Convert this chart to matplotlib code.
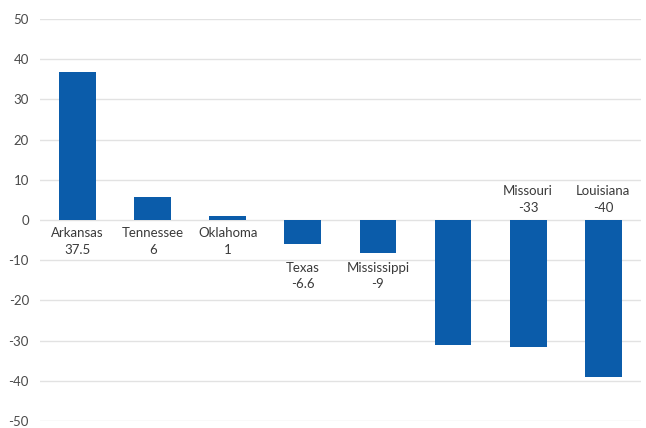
import matplotlib
matplotlib.use("Agg")
import matplotlib.pyplot as plt

states = ['Arkansas', 'Tennessee', 'Oklahoma', 'Texas', 'Mississippi', '', 'Missouri', 'Louisiana']
# bar heights as drawn in the picture
bar_values = [36.8, 5.7, 0.9, -5.9, -8.1, -31.0, -31.6, -39.0]
# value text printed under the names
value_text = ['37.5', '6', '1', '-6.6', '-9', '', '-33', '-40']
yticks = [50, 40, 30, 20, 10, 0, -10, -20, -30, -40, -50]

plt.rcParams['font.family'] = ['Lato', 'DejaVu Sans']

fig = plt.figure(figsize=(6.46, 4.28), dpi=100)
ax = fig.add_axes([0.062, 0.016, 0.93, 0.94])

x = list(range(len(states)))
ax.bar(x, bar_values, width=0.49, color='#0B5CAA', zorder=3)

ax.set_xlim(-0.5, len(states) - 0.5)
ax.set_ylim(-50, 50)
ax.set_yticks(yticks)
ax.set_yticklabels([str(t) for t in yticks], fontsize=9.5, color='#4a4a4a')
ax.set_xticks([])
ax.tick_params(axis='y', length=0, pad=8)
ax.grid(axis='y', color='#e2e2e2', linewidth=1, zorder=0)
for s in ax.spines.values():
    s.set_visible(False)

for i, (name, txt, v) in enumerate(zip(states, value_text, bar_values)):
    if not name:
        continue
    label = name + '\n' + txt
    if v >= 0:
        ax.text(i, -1.8, label, ha='center', va='top', fontsize=9.5,
                color='#3a3a3a', linespacing=1.45)
    elif v > -20:
        ax.text(i, -10.4, label, ha='center', va='top', fontsize=9.5,
                color='#3a3a3a', linespacing=1.45)
    else:
        ax.text(i, 1.6, label, ha='center', va='bottom', fontsize=9.5,
                color='#3a3a3a', linespacing=1.45)

fig.savefig('out.png', dpi=100)
